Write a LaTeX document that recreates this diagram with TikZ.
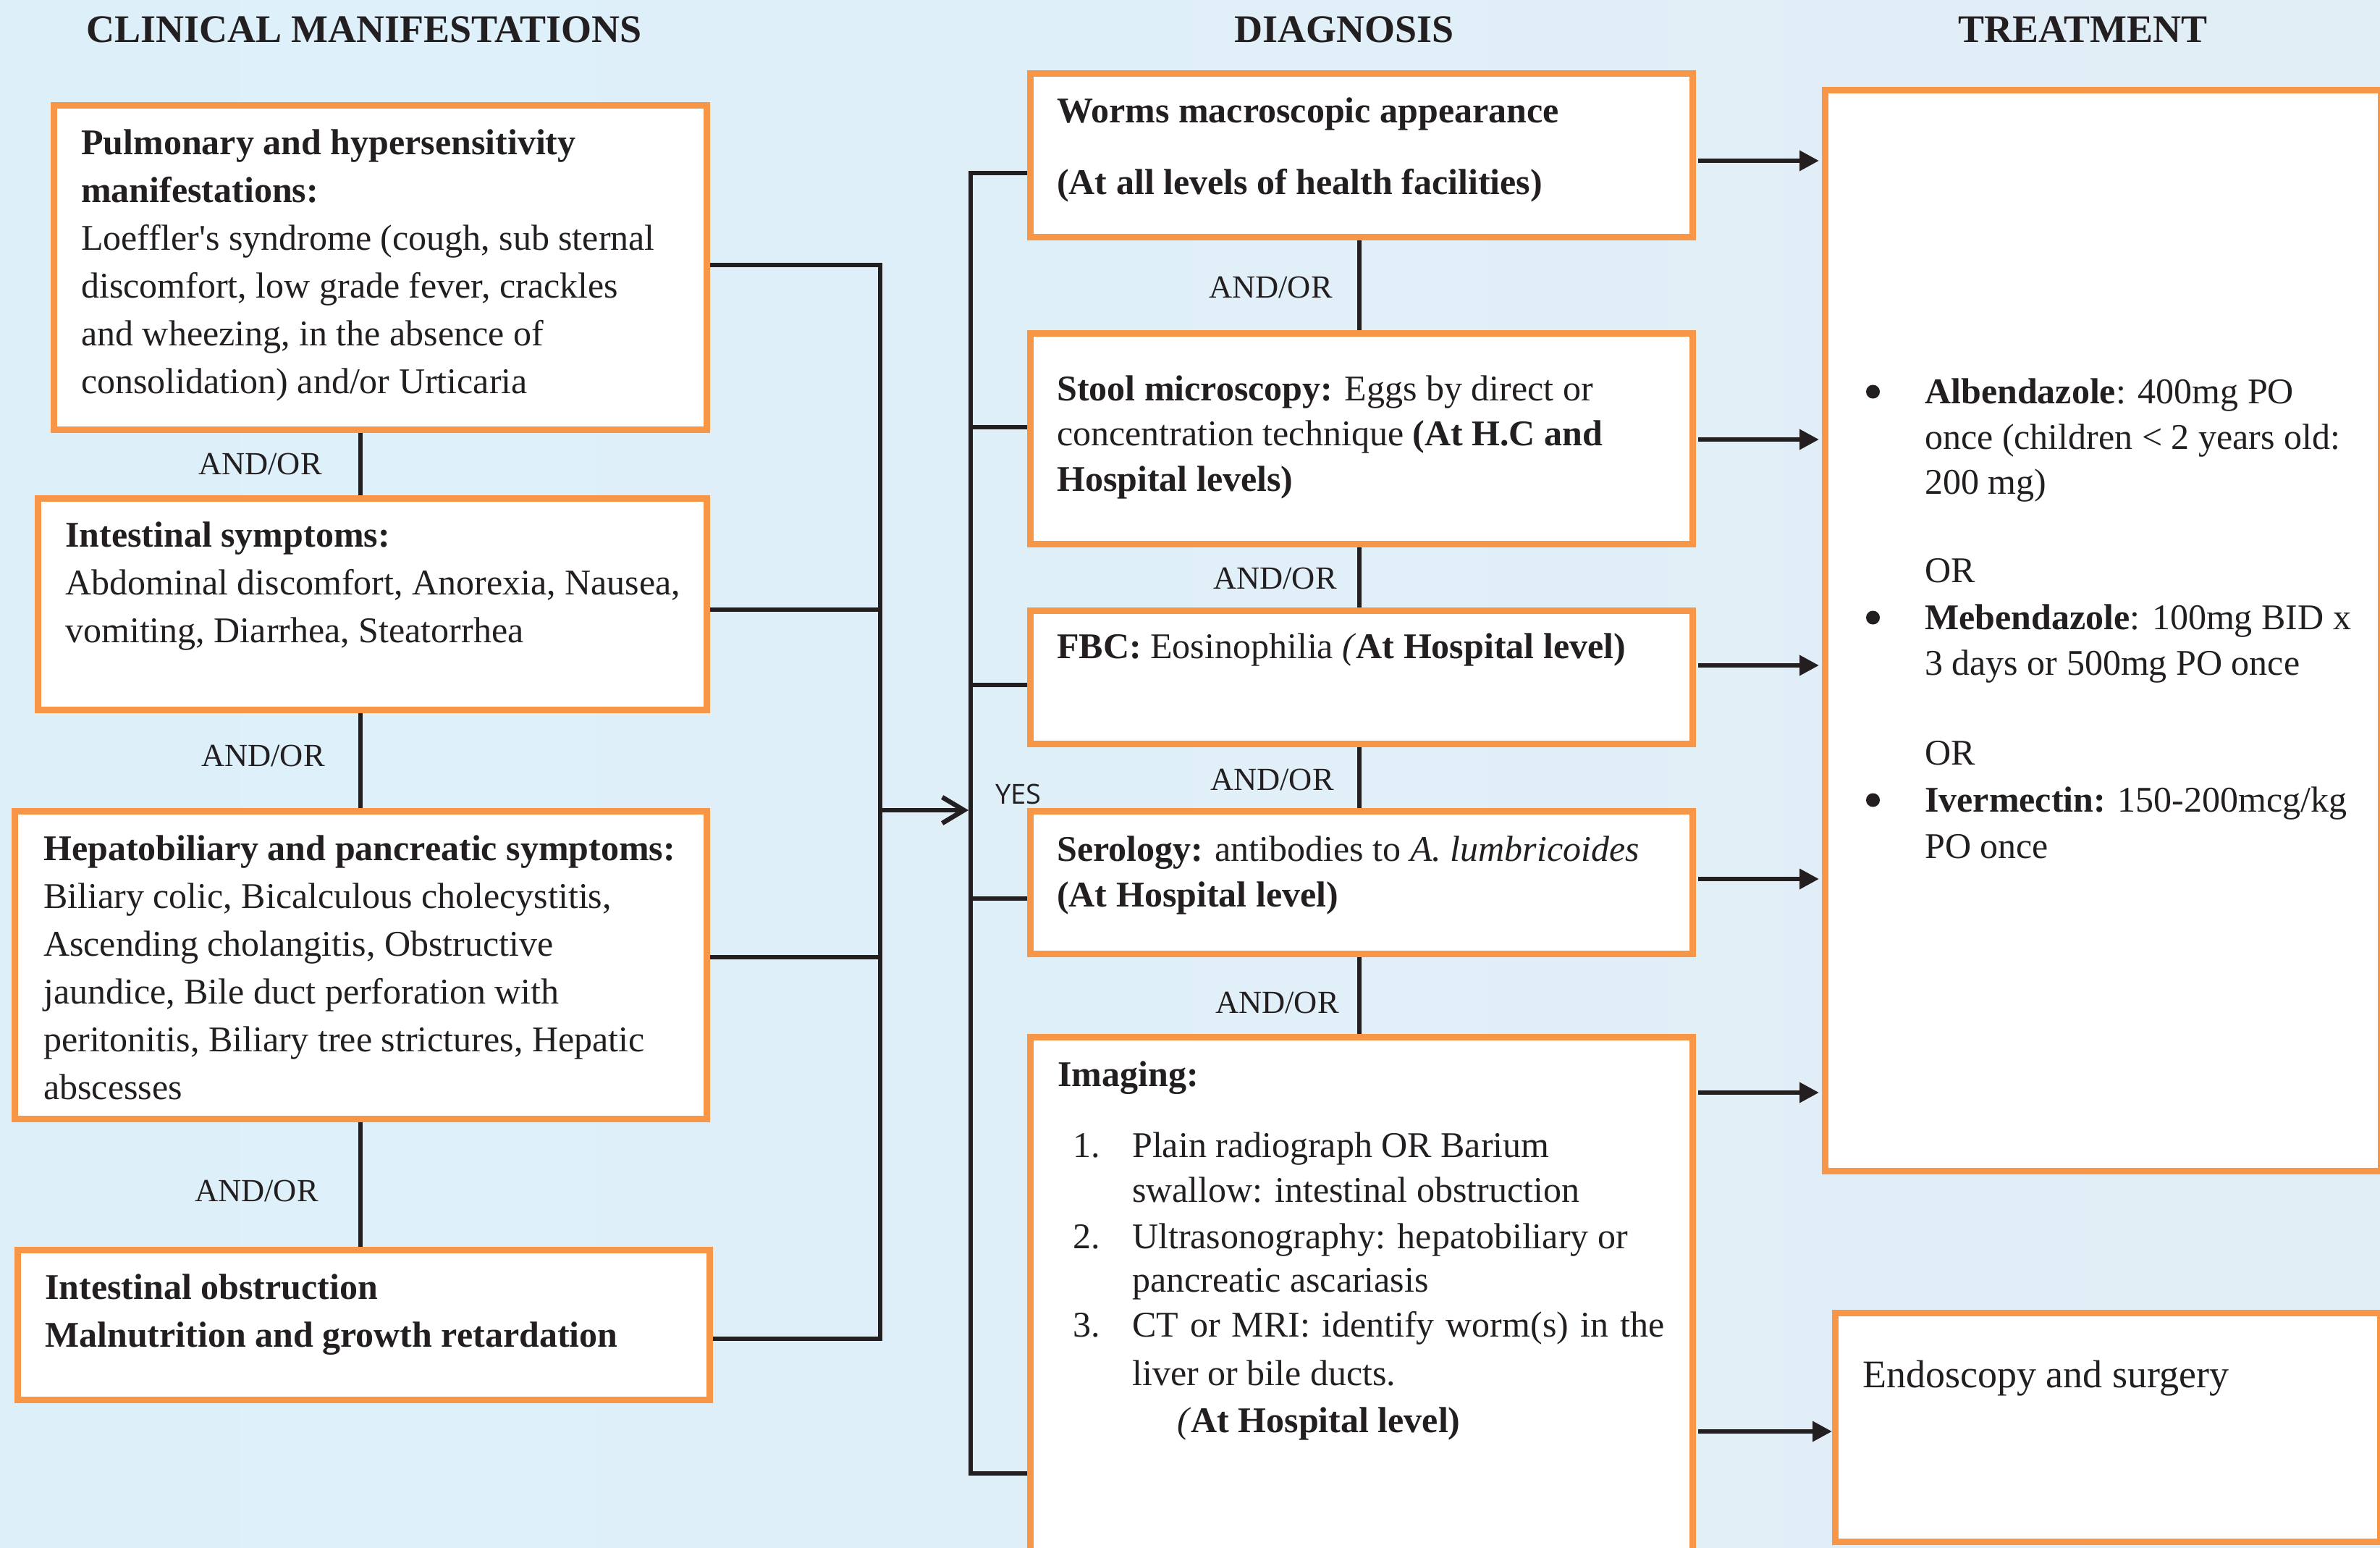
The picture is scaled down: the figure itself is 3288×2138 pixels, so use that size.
\documentclass[tikz,border=0pt]{standalone}
\usepackage{fontspec}
\setmainfont{Liberation Serif}
\newfontfamily\labelsans{Open Sans}
\usetikzlibrary{arrows.meta}
\definecolor{boxorange}{RGB}{247,150,70}
\definecolor{ink}{RGB}{35,31,32}
\definecolor{bgleft}{RGB}{221,240,250}
\definecolor{bgright}{RGB}{226,238,246}
\pgfdeclarelayer{canvas}
\pgfdeclarelayer{wires}
\pgfsetlayers{canvas,wires,main}

\begin{document}
\begin{tikzpicture}[x=1pt,y=-1pt,
  cbox/.style={draw=boxorange, line width=9pt, fill=white, inner sep=0pt, outer sep=0pt, rectangle},
  link/.style={draw=ink, line width=6.5pt},
  feed/.style={link, -{Triangle[length=27pt,width=27pt]}},
  merge/.style={link, -{Straight Barb[length=30pt,width=36pt]}},
  dot/.style={circle, fill=ink, minimum size=19pt, inner sep=0pt},
  body/.style={anchor=base west, inner sep=0pt, font=\fontsize{50}{60}\selectfont, text=ink},
  bigbody/.style={body, font=\fontsize{54}{64}\selectfont},
  head/.style={anchor=base, inner sep=0pt, font=\fontsize{54}{64}\selectfont\bfseries, text=ink},
  andor/.style={anchor=base east, inner sep=0pt, font=\fontsize{44.5}{50}\selectfont, text=ink},
]
\useasboundingbox (0,0) rectangle (3288,2138);
\clip (0,0) rectangle (3288,2138);

\begin{pgfonlayer}{canvas}
  \shade[left color=bgleft, right color=bgright] (0,0) rectangle (3288,2138);
\end{pgfonlayer}

% ---------- boxes ----------
% clinical manifestations
\node[cbox, minimum width=902pt, minimum height=447pt] (p1) at (525,369.5) {};
\node[cbox, minimum width=924pt, minimum height=292pt] (p2) at (514,834) {};
\node[cbox, minimum width=956pt, minimum height=425pt] (p3) at (498,1333) {};
\node[cbox, minimum width=956pt, minimum height=207pt] (p4) at (502,1829.5) {};
% diagnosis
\node[cbox, minimum width=915pt, minimum height=225pt] (d1) at (1880.5,214.5) {};
\node[cbox, minimum width=915pt, minimum height=291pt] (d2) at (1880.5,605.5) {};
\node[cbox, minimum width=915pt, minimum height=184pt] (d3) at (1880.5,935) {};
\node[cbox, minimum width=915pt, minimum height=197pt] (d4) at (1880.5,1218.5) {};
\node[cbox, minimum width=915pt, minimum height=767pt] (d5) at (1880.5,1816) {};
% treatment
\node[cbox, minimum width=768pt, minimum height=1492pt] (t1) at (2905,871) {};
\node[cbox, minimum width=753pt, minimum height=316pt] (t2) at (2911.5,1971) {};

% ---------- connector guide points ----------
\coordinate (lv) at (498,0);
\coordinate (dv) at (1878,0);
\coordinate (lb1) at (1216,366);
\coordinate (lb2) at (1216,842);
\coordinate (lb3) at (1216,1322);
\coordinate (lb4) at (1216,1849);
\coordinate (lm) at (1216,1119);
\coordinate (db1) at (1341,239);
\coordinate (db2) at (1341,590);
\coordinate (db3) at (1341,946);
\coordinate (db4) at (1341,1241);
\coordinate (db5) at (1341,2035);
\coordinate (r1) at (0,222);
\coordinate (r2) at (0,607);
\coordinate (r3) at (0,919);
\coordinate (r4) at (0,1214);
\coordinate (r5) at (0,1509);
\coordinate (r6) at (0,1977);

\begin{pgfonlayer}{wires}
  % links down the clinical column
  \draw[link] (p1.south -| lv) -- (p2.north -| lv);
  \draw[link] (p2.south -| lv) -- (p3.north -| lv);
  \draw[link] (p3.south -| lv) -- (p4.north -| lv);
  % links down the diagnosis column
  \draw[link] (d1.south -| dv) -- (d2.north -| dv);
  \draw[link] (d2.south -| dv) -- (d3.north -| dv);
  \draw[link] (d3.south -| dv) -- (d4.north -| dv);
  \draw[link] (d4.south -| dv) -- (d5.north -| dv);
  % clinical bus
  \draw[link] (p1.east |- lb1) -- (lb1) -- (lb4) -- (p4.east |- lb4);
  \draw[link] (p2.east |- lb2) -- (lb2);
  \draw[link] (p3.east |- lb3) -- (lb3);
  % diagnosis bus
  \draw[link] (d1.west |- db1) -- (db1) -- (db5) -- (d5.west |- db5);
  \draw[link] (d2.west |- db2) -- (db2);
  \draw[link] (d3.west |- db3) -- (db3);
  \draw[link] (d4.west |- db4) -- (db4);
  % clinical to diagnosis
  \draw[merge, shorten >=3pt] (lm) -- (lm -| db1);
  % diagnosis to treatment
  \draw[feed, shorten >=8pt] ([xshift=8pt]d1.east |- r1) -- (t1.west |- r1);
  \draw[feed, shorten >=8pt] ([xshift=8pt]d2.east |- r2) -- (t1.west |- r2);
  \draw[feed, shorten >=8pt] ([xshift=8pt]d3.east |- r3) -- (t1.west |- r3);
  \draw[feed, shorten >=8pt] ([xshift=8pt]d4.east |- r4) -- (t1.west |- r4);
  \draw[feed, shorten >=8pt] ([xshift=8pt]d5.east |- r5) -- (t1.west |- r5);
  \draw[feed, shorten >=4pt] ([xshift=8pt]d5.east |- r6) -- (t2.west |- r6);
\end{pgfonlayer}

% ---------- headings ----------
\node[head] (hcm) at (503,59) {CLINICAL MANIFESTATIONS};
\node[head] (hdx) at (1857,59) {DIAGNOSIS};
\node[head] (htx) at (2877,59) {TREATMENT};

% ---------- connector labels ----------
\node[andor] (ao1) at (445,655) {AND/OR};
\node[andor] (ao2) at (449,1058) {AND/OR};
\node[andor] (ao3) at (440,1659) {AND/OR};
\node[andor] (ao4) at (1841,411) {AND/OR};
\node[andor] (ao5) at (1847,813) {AND/OR};
\node[andor] (ao6) at (1843,1091) {AND/OR};
\node[andor] (ao7) at (1850,1399) {AND/OR};
\node[anchor=base west, inner sep=0pt, text=ink, font=\labelsans\fontsize{38}{44}\selectfont] (yes) at (1375,1110) {YES};

% ---------- clinical manifestations text ----------
\node[body] (p1a) at (112,213) {\textbf{Pulmonary and hypersensitivity}};
\node[body] (p1b) at (112,279) {\textbf{manifestations:}};
\node[body] (p1c) at (112,345) {Loeffler\textquotesingle s syndrome (cough, sub sternal};
\node[body] (p1d) at (112,411) {discomfort, low grade fever, crackles};
\node[body] (p1e) at (112,477) {and wheezing, in the absence of};
\node[body] (p1f) at (112,543) {consolidation) and/or Urticaria};

\node[body] (p2a) at (90,755) {\textbf{Intestinal symptoms:}};
\node[body] (p2b) at (90,821) {Abdominal discomfort, Anorexia, Nausea,};
\node[body] (p2c) at (90,887) {vomiting, Diarrhea, Steatorrhea};

\node[body] (p3a) at (60,1188) {\textbf{Hepatobiliary and pancreatic symptoms:}};
\node[body] (p3b) at (60,1254) {Biliary colic, Bicalculous cholecystitis,};
\node[body] (p3c) at (60,1320) {Ascending cholangitis, Obstructive};
\node[body] (p3d) at (60,1386) {jaundice, Bile duct perforation with};
\node[body] (p3e) at (60,1452) {peritonitis, Biliary tree strictures, Hepatic};
\node[body] (p3f) at (60,1518) {abscesses};

\node[body] (p4a) at (62,1794) {\textbf{Intestinal obstruction}};
\node[body] (p4b) at (62,1860) {\textbf{Malnutrition and growth retardation}};

% ---------- diagnosis text ----------
\node[body] (d1a) at (1460,170) {\textbf{Worms macroscopic appearance}};
\node[body] (d1b) at (1460,268) {\textbf{(At all levels of health facilities)}};

\node[body] (d2a) at (1460,553) {\textbf{Stool microscopy:} Eggs by direct or};
\node[body] (d2b) at (1460,615) {concentration technique \textbf{(At H.C and}};
\node[body] (d2c) at (1460,678) {\textbf{Hospital levels)}};

\node[body] (d3a) at (1460,909) {\textbf{FBC:} Eosinophilia \textit{(}\textbf{At Hospital level)}};

\node[body] (d4a) at (1460,1189) {\textbf{Serology:} antibodies to \textit{A. lumbricoides}};
\node[body] (d4b) at (1460,1252) {\textbf{(At Hospital level)}};

\node[body] (d5a) at (1461,1500) {\textbf{Imaging:}};
\node[body] (d5n1) at (1482,1598) {1.};
\node[body] (d5b) at (1564,1598) {Plain radiograph OR Barium};
\node[body] (d5c) at (1564,1660) {swallow: intestinal obstruction};
\node[body] (d5n2) at (1482,1724) {2.};
\node[body] (d5d) at (1564,1724) {Ultrasonography: hepatobiliary or};
\node[body] (d5e) at (1564,1784) {pancreatic ascariasis};
\node[body] (d5n3) at (1482,1846) {3.};
\node[body] (d5f) at (1564,1846) {\makebox[735pt][s]{CT or MRI: identify worm(s) in the}};
\node[body] (d5g) at (1564,1913) {liver or bile ducts.};
\node[body] (d5h) at (1626,1978) {\textit{(}\textbf{At Hospital level)}};

% ---------- treatment text ----------
\node[dot] (t1b1) at (2587.5,541) {};
\node[body] (t1a) at (2659,557) {\textbf{Albendazole}: 400mg PO};
\node[body] (t1b) at (2659,620) {once (children < 2 years old:};
\node[body] (t1c) at (2659,682) {200 mg)};
\node[body] (t1d) at (2659,804) {OR};
\node[dot] (t1b2) at (2587.5,853) {};
\node[body] (t1e) at (2659,869) {\textbf{Mebendazole}: 100mg BID x};
\node[body] (t1f) at (2659,932) {3 days or 500mg PO once};
\node[body] (t1g) at (2659,1056) {OR};
\node[dot] (t1b3) at (2587.5,1105) {};
\node[body] (t1h) at (2659,1121) {\textbf{Ivermectin:} 150-200mcg/kg};
\node[body] (t1i) at (2659,1185) {PO once};

\node[bigbody] (t2a) at (2573,1916) {Endoscopy and surgery};

\end{tikzpicture}
\end{document}
